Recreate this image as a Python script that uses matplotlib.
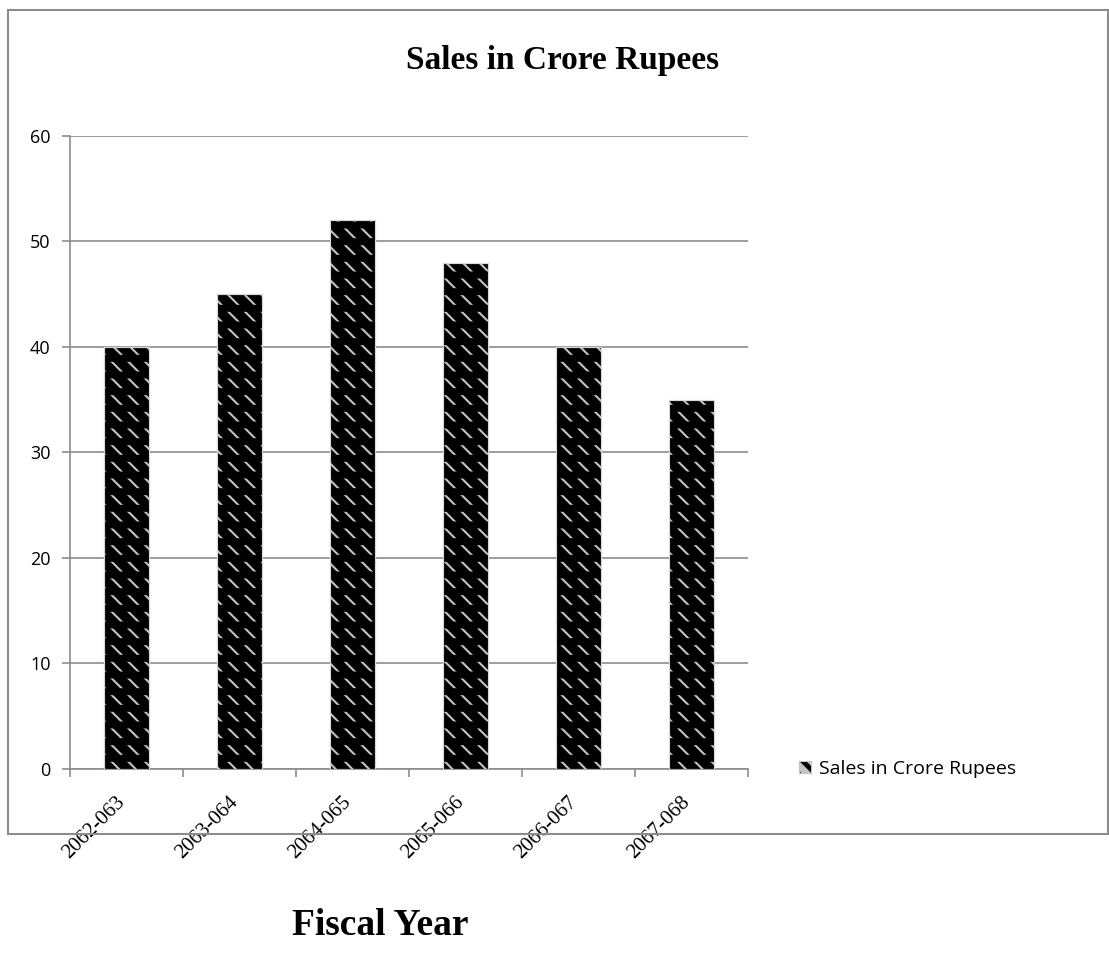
import matplotlib
matplotlib.use('Agg')
import matplotlib.pyplot as plt
import matplotlib.transforms as mtransforms
from matplotlib.patches import Rectangle

# chart data
years = ['2062-063', '2063-064', '2064-065', '2065-066', '2066-067', '2067-068']
sales = [40, 45, 52, 48, 40, 35]
yticks = [0, 10, 20, 30, 40, 50, 60]

fig = plt.figure(figsize=(11.09, 9.68), dpi=100)
ax = fig.add_axes([0.0631, 0.2056, 0.6114, 0.654])

# outer chart frame
fig.patches.append(Rectangle((8 / 1109, (968 - 834) / 968), 1100 / 1109, 824 / 968,
                             transform=fig.transFigure, fill=False,
                             edgecolor='#8c8c8c', linewidth=1.5))

x = range(len(years))
plt.rcParams['hatch.linewidth'] = 1.5
ax.bar(x, sales, width=0.4, color='black', edgecolor='#c4c4c4', linewidth=0.8,
       hatch='\\\\', label='Sales in Crore Rupees', zorder=3)
# black horizontal stripes break the diagonals into short dashes
plt.rcParams['hatch.linewidth'] = 5.0
ax.bar(x, sales, width=0.4, facecolor='none', edgecolor='black', linewidth=0,
       hatch='-', zorder=4)
ax.bar(x, sales, width=0.4, facecolor='none', edgecolor='#d8d8d8', linewidth=0.8,
       zorder=5)

ax.set_xlim(-0.5, len(years) - 0.5)
ax.set_ylim(0, 60)
ax.set_yticks(yticks)
ax.yaxis.grid(True, color='#8c8c8c', linewidth=1.2, zorder=0)

ax.set_xticks([i - 0.5 for i in range(len(years) + 1)], minor=False)
ax.set_xticklabels([])
ax.set_xticks(list(x), minor=True)
ax.set_xticklabels(years, minor=True, rotation=45, ha='right', rotation_mode='anchor')
ax.tick_params(axis='x', which='minor', length=0, pad=10, labelsize=15,
               labelfontfamily='Liberation Serif')
ax.tick_params(axis='x', which='major', length=6, color='#8c8c8c', width=1.2)
ax.tick_params(axis='y', length=6, color='#8c8c8c', width=1.2, labelsize=13, pad=8,
               labelfontfamily='Open Sans')

# nudge the rotated year labels down-left
shift = mtransforms.ScaledTranslation(-0.11, -0.10, fig.dpi_scale_trans)
for lab in ax.get_xticklabels(minor=True):
    lab.set_transform(lab.get_transform() + shift)

for s in ['top', 'right']:
    ax.spines[s].set_visible(False)
for s in ['left', 'bottom']:
    ax.spines[s].set_color('#8c8c8c')
    ax.spines[s].set_linewidth(1.2)

fig.text(0.507, 0.937, 'Sales in Crore Rupees', ha='center', va='center',
         fontfamily='Liberation Serif', fontweight='bold', fontsize=24)
fig.text(0.343, 0.044, 'Fiscal Year', ha='center', va='center',
         fontfamily='Liberation Serif', fontweight='bold', fontsize=27)

leg = ax.legend(loc='center left', bbox_to_anchor=(1.05, 0.0), frameon=False,
                handlelength=0.6, handleheight=0.6, handletextpad=0.4,
                prop={'family': 'Open Sans', 'size': 14})

fig.savefig('out.png', dpi=100)
